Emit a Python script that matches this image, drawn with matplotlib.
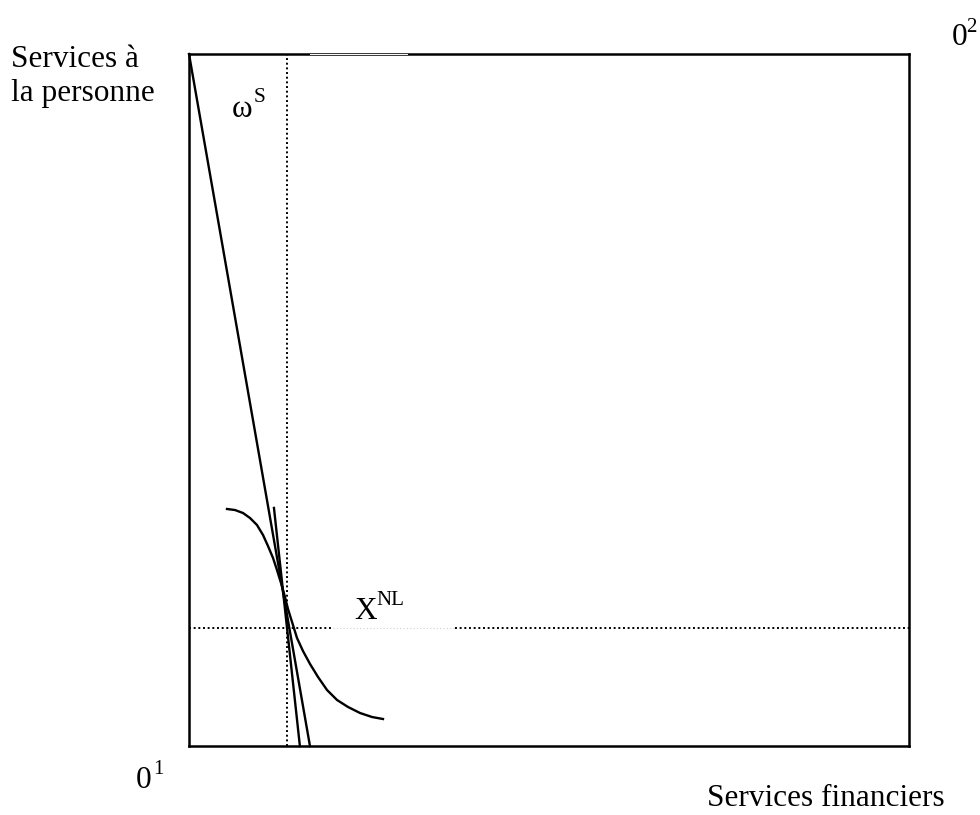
import numpy as np
import matplotlib
matplotlib.use("Agg")
import matplotlib.pyplot as plt

plt.rcParams['font.family'] = ['Liberation Serif', 'DejaVu Serif']

# box coordinates run 0..100 on both axes (0^1 at bottom-left)
budget_x = [0.0, 16.8]          # long budget line
budget_y = [100.0, 0.0]
tangent_x = [11.8, 15.4]        # short steep line
tangent_y = [34.4, 0.0]
omega_x = 13.6                  # vertical dotted line (omega^S)
xnl_y = 17.1                    # horizontal dotted line (X^NL)
gap_x = [20.0, 36.9]            # faint part of the horizontal dotted line

curve_x = [5.28, 6.39, 7.50, 8.47, 9.44, 10.28, 10.97, 11.67, 12.22, 12.78, 13.33,
           13.75, 14.31, 15.00, 15.83, 16.81, 17.92, 19.17, 20.56, 22.08, 23.75,
           25.42, 26.94]
curve_y = [34.25, 34.10, 33.67, 32.95, 31.94, 30.49, 28.90, 27.17, 25.43, 23.55,
           21.53, 19.80, 17.92, 15.61, 13.73, 11.85, 9.97, 8.09, 6.65, 5.64, 4.77,
           4.19, 3.90]

W, H = 980, 815
fig = plt.figure(figsize=(W / 100, H / 100), dpi=100)
ax = fig.add_axes([189 / W, (H - 746) / H, 720 / W, 692 / H])
ax.set_xlim(0, 100)
ax.set_ylim(0, 100)
ax.set_xticks([])
ax.set_yticks([])
for s in ax.spines.values():
    s.set_linewidth(1.8)
    s.set_color('black')

ax.plot([omega_x, omega_x], [0, 100], color='black', lw=1.4, ls=(0, (1, 1.4)))
ax.plot([0, gap_x[0]], [xnl_y, xnl_y], color='black', lw=1.4, ls=(0, (1, 1.4)))
ax.plot(gap_x, [xnl_y, xnl_y], color='#d0d0d0', lw=0.8, ls=(0, (1, 2)))
ax.plot([gap_x[1], 100], [xnl_y, xnl_y], color='black', lw=1.4, ls=(0, (1, 1.4)))

ax.plot(budget_x, budget_y, color='black', lw=1.7, clip_on=False)
ax.plot(tangent_x, tangent_y, color='black', lw=1.7, clip_on=False)
ax.plot(curve_x, curve_y, color='black', lw=1.7)

# faint white patch on top border
ax.plot([16.8, 30.3], [100, 100], color='white', lw=0.7, clip_on=False, zorder=5)


def ftext(x, y, s, size, **kw):
    fig.text(x / W, 1 - y / H, s, fontsize=size, color='black', **kw)


ftext(11, 67, 'Services à', 22.5)
ftext(11, 101, 'la personne', 22.5)
ftext(952, 45, '0', 22.5)
ftext(966, 32, '2', 15)
ftext(136, 788, '0', 22.5)
ftext(153, 774, '1', 15)
ftext(945, 806, 'Services financiers', 22.5, ha='right')
ftext(232, 117, 'ω', 22.5)
ftext(254, 102, 'S', 15.5)
ftext(354, 619, 'X', 22.5)
ftext(376, 605, 'NL', 15)

fig.savefig('out.png', dpi=100)
